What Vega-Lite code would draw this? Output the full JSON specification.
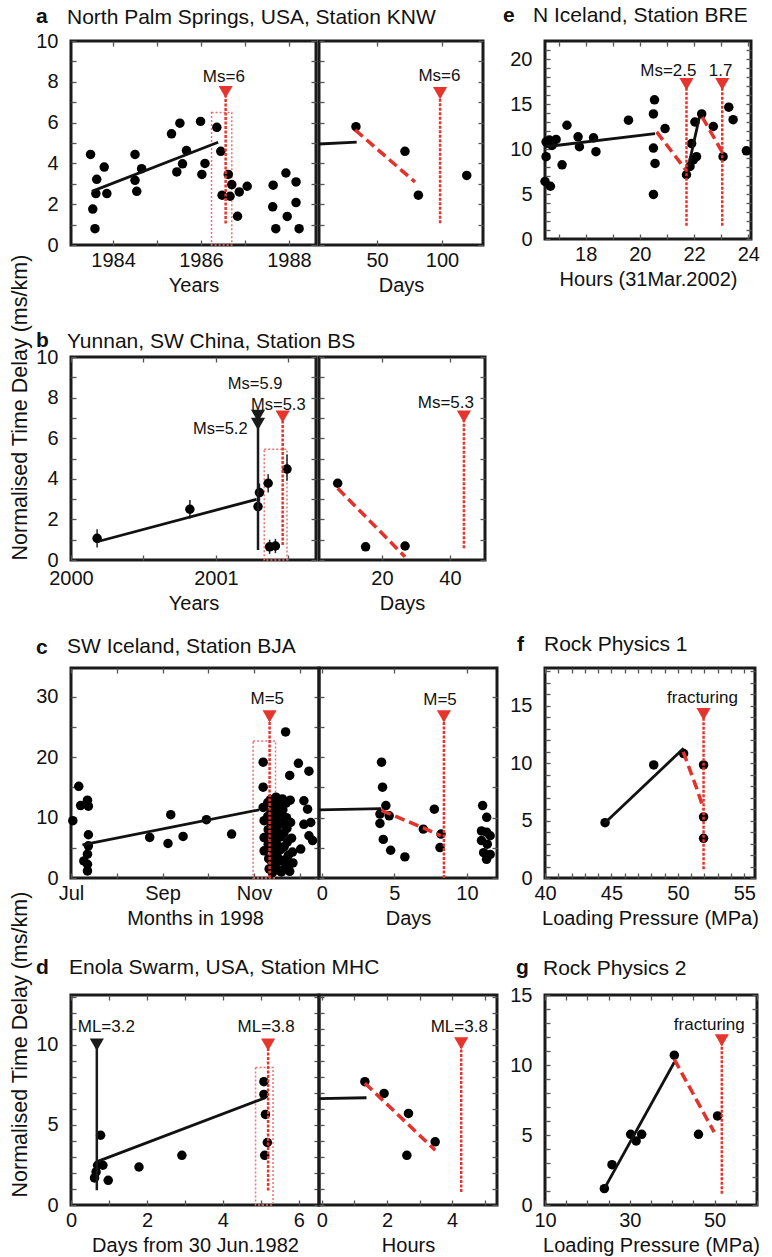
{
"$schema": "https://vega.github.io/schema/vega-lite/v6.json",
"padding": {"left": 8, "top": 3, "right": 5, "bottom": 5},
"background": "white",
"columns": 5,
"bounds": "flush",
"align": "each",
"spacing": {"row": 108, "column": 0},
"config": {
 "font": "Liberation Sans",
 "view": {"stroke": "#1a1a1a", "strokeWidth": 3},
 "axis": {"grid": false, "domain": false, "labelFont": "Liberation Sans", "labelFontSize": 20, "labelColor": "#111", "labelFlush": false, "labelOverlap": false, "titleFont": "Liberation Sans", "titleFontSize": 20, "titleFontWeight": "normal", "titleColor": "#111", "tickColor": "#555", "tickSize": -5, "tickWidth": 1.3, "minExtent": 0},
 "axisX": {"labelPadding": 10, "titlePadding": 5},
 "axisY": {"labelPadding": 18, "titlePadding": 4},
 "title": {"anchor": "start", "frame": "group", "font": "Liberation Sans", "fontSize": 21, "fontWeight": "bold", "color": "#111", "baseline": "top", "dx": 0},
 "text": {"font": "Liberation Sans"}
},
"concat": [
{"width": 35, "height": 10, "title": {"text": "a", "offset": 14}, "data": {"values": []}, "mark": {"type":"point","opacity":0}, "encoding": {}, "view": {"stroke": null}},
{
 "width": 245, "height": 204,
 "title": {"text": "North Palm Springs, USA, Station KNW", "fontWeight": "normal", "dx": -4, "offset": 3},
 "data": {"values": [
  {"k":"box","x":1986.24,"x2":1986.7,"y":0,"y2":6.5},
  {"k":"pt","x":1983.49,"y":4.44},{"k":"pt","x":1983.63,"y":3.22},{"k":"pt","x":1983.8,"y":3.82},{"k":"pt","x":1983.61,"y":2.52},{"k":"pt","x":1983.86,"y":2.52},{"k":"pt","x":1983.54,"y":1.76},{"k":"pt","x":1983.59,"y":0.8},{"k":"pt","x":1984.5,"y":4.44},{"k":"pt","x":1984.5,"y":3.17},{"k":"pt","x":1984.54,"y":2.63},{"k":"pt","x":1984.65,"y":3.74},{"k":"pt","x":1985.33,"y":5.45},{"k":"pt","x":1985.52,"y":5.97},{"k":"pt","x":1985.45,"y":3.58},{"k":"pt","x":1985.58,"y":3.98},{"k":"pt","x":1985.67,"y":4.63},{"k":"pt","x":1985.99,"y":6.06},{"k":"pt","x":1986.02,"y":3.46},{"k":"pt","x":1986.09,"y":4.0},{"k":"pt","x":1986.36,"y":5.77},{"k":"pt","x":1986.45,"y":4.59},{"k":"pt","x":1986.48,"y":2.44},{"k":"pt","x":1986.62,"y":3.46},{"k":"pt","x":1986.7,"y":2.96},{"k":"pt","x":1986.66,"y":2.39},{"k":"pt","x":1986.87,"y":2.6},{"k":"pt","x":1987.05,"y":2.88},{"k":"pt","x":1986.83,"y":1.41},{"k":"pt","x":1987.64,"y":2.93},{"k":"pt","x":1987.63,"y":1.87},{"k":"pt","x":1987.7,"y":0.8},{"k":"pt","x":1987.93,"y":3.53},{"k":"pt","x":1987.96,"y":1.4},{"k":"pt","x":1988.16,"y":3.09},{"k":"pt","x":1988.16,"y":2.08},{"k":"pt","x":1988.23,"y":0.8},
  {"k":"fit","s":1,"x":1983.52,"y":2.63},{"k":"fit","s":1,"x":1986.39,"y":5.04},
  {"k":"ev","c":"eq","x":1986.56,"y":1.05,"y2":7.5},
  {"k":"tri","c":"eq","x":1986.56,"y":7.5},
  {"k":"lab","x":1986.52,"y":8.24,"t":"Ms=6"}
 ]},
 "resolve": {"axis": {"x": "independent", "y": "independent"}},
 "layer": [
  {
   "encoding": {
    "x": {"field":"x","type":"quantitative","scale":{"domain":[1983.045,1988.614],"nice":false,"zero":false},"axis":{"values":[1984,1985,1986,1987,1988],"labelExpr":"datum.value == 1984 ? '1984' : datum.value == 1986 ? '1986' : datum.value == 1988 ? '1988' : ''","title":"Years"}},
    "y": {"field":"y","type":"quantitative","scale":{"domain":[0,10],"nice":false,"zero":false},"axis":{"values":[0,1,2,3,4,5,6,7,8,9,10],"labelExpr":"datum.value % 2 == 0 ? datum.label : ''","title":"Normalised Time Delay (ms/km)","titleAnchor":"start","titleY":519,"titleFontSize":21.5}}
   },
   "layer": [
    {"transform":[{"filter":"datum.k=='box'"}],"mark":{"type":"rect","filled":false,"color":"#ee7070","strokeWidth":1.5,"strokeDash":[2,2]},"encoding":{"x2":{"field":"x2"},"y2":{"field":"y2"}}},
    {"transform":[{"filter":"datum.k=='pt'"}],"mark":{"type":"circle","color":"#000","opacity":1,"size":90}},
    {"transform":[{"filter":"datum.k=='fit'"}],"mark":{"type":"line","color":"#111","strokeWidth":2.8},"encoding":{"detail":{"field":"s","type":"nominal"}}},
    {"transform":[{"filter":"datum.k=='ev'"}],"mark":{"type":"rule","strokeWidth":2.5},"encoding":{"y2":{"field":"y2"},"color":{"field":"c","type":"nominal","scale":{"domain":["eq","fore"],"range":["#e5352d","#1a1a1a"]},"legend":null},"strokeDash":{"field":"c","type":"nominal","scale":{"domain":["eq","fore"],"range":[[3,1.5],[1,0]]},"legend":null}}},
    {"transform":[{"filter":"datum.k=='tri'"}],"mark":{"type":"point","shape":"triangle-down","filled":true,"opacity":1,"size":200},"encoding":{"color":{"field":"c","type":"nominal","scale":{"domain":["eq","fore"],"range":["#e5352d","#1a1a1a"]},"legend":null}}},
    {"transform":[{"filter":"datum.k=='lab'"}],"mark":{"type":"text","fontSize":17,"color":"#111"},"encoding":{"text":{"field":"t","type":"nominal"}}}
   ]
  },
  {"transform":[{"filter":"false"}],"mark":{"type":"point","opacity":0},"encoding":{
   "x":{"field":"x","type":"quantitative","scale":{"domain":[1983.045,1988.614],"nice":false,"zero":false},"axis":{"orient":"top","labels":false,"title":null,"values":[1984,1985,1986,1987,1988]}},
   "y":{"field":"y","type":"quantitative","scale":{"domain":[0,10],"nice":false,"zero":false},"axis":{"orient":"right","labels":false,"title":null,"values":[0,1,2,3,4,5,6,7,8,9,10]}}}}
 ]
},
{
 "width": 164, "height": 204,
 "data": {"values": [
  {"k":"pt","x":33.8,"y":5.8},{"k":"pt","x":71.5,"y":4.59},{"k":"pt","x":81.8,"y":2.44},{"k":"pt","x":119,"y":3.41},
  {"k":"fit","s":1,"x":5.4,"y":4.95},{"k":"fit","s":1,"x":34.4,"y":5.04},
  {"k":"drop","s":1,"x":33.2,"y":5.64},{"k":"drop","s":1,"x":79.2,"y":3.09},
  {"k":"ev","c":"eq","x":98.5,"y":1.07,"y2":7.45},
  {"k":"tri","c":"eq","x":98.5,"y":7.45},
  {"k":"lab","x":98,"y":8.3,"t":"Ms=6"}
 ]},
 "resolve": {"axis": {"x": "independent", "y": "independent"}},
 "layer": [
  {
   "encoding": {
    "x": {"field":"x","type":"quantitative","scale":{"domain":[5.4,131.5],"nice":false,"zero":false},"axis":{"values":[50,100],"title":"Days"}},
    "y": {"field":"y","type":"quantitative","scale":{"domain":[0,10],"nice":false,"zero":false},"axis":{"values":[0,1,2,3,4,5,6,7,8,9,10],"labels":false,"title":null}}
   },
   "layer": [
    {"transform":[{"filter":"datum.k=='pt'"}],"mark":{"type":"circle","color":"#000","opacity":1,"size":90}},
    {"transform":[{"filter":"datum.k=='fit'"}],"mark":{"type":"line","color":"#111","strokeWidth":2.8},"encoding":{"detail":{"field":"s","type":"nominal"}}},
    {"transform":[{"filter":"datum.k=='drop'"}],"mark":{"type":"line","color":"#e3312b","strokeWidth":3.5,"strokeDash":[10,5]},"encoding":{"detail":{"field":"s","type":"nominal"}}},
    {"transform":[{"filter":"datum.k=='ev'"}],"mark":{"type":"rule","strokeWidth":2.5},"encoding":{"y2":{"field":"y2"},"color":{"field":"c","type":"nominal","scale":{"domain":["eq","fore"],"range":["#e5352d","#1a1a1a"]},"legend":null},"strokeDash":{"field":"c","type":"nominal","scale":{"domain":["eq","fore"],"range":[[3,1.5],[1,0]]},"legend":null}}},
    {"transform":[{"filter":"datum.k=='tri'"}],"mark":{"type":"point","shape":"triangle-down","filled":true,"opacity":1,"size":200},"encoding":{"color":{"field":"c","type":"nominal","scale":{"domain":["eq","fore"],"range":["#e5352d","#1a1a1a"]},"legend":null}}},
    {"transform":[{"filter":"datum.k=='lab'"}],"mark":{"type":"text","fontSize":17,"color":"#111"},"encoding":{"text":{"field":"t","type":"nominal"}}}
   ]
  },
  {"transform":[{"filter":"false"}],"mark":{"type":"point","opacity":0},"encoding":{
   "x":{"field":"x","type":"quantitative","scale":{"domain":[5.4,131.5],"nice":false,"zero":false},"axis":{"orient":"top","labels":false,"title":null,"values":[50,100]}},
   "y":{"field":"y","type":"quantitative","scale":{"domain":[0,10],"nice":false,"zero":false},"axis":{"orient":"right","labels":false,"title":null,"values":[0,1,2,3,4,5,6,7,8,9,10]}}}}
 ]
},
{"width": 48, "height": 208, "title": {"text": "e", "offset": 15, "dx": 6}, "data": {"values": []}, "mark": {"type":"point","opacity":0}, "encoding": {}, "view": {"stroke": null}},
{
 "width": 206, "height": 198,
 "title": {"text": "N Iceland, Station BRE", "fontWeight": "normal", "offset": 14, "dx": -12},
 "data": {"values": [
  {"k":"pt","x":16.54,"y":10.8},{"k":"pt","x":16.54,"y":9.15},{"k":"pt","x":16.5,"y":6.4},{"k":"pt","x":16.7,"y":5.86},{"k":"pt","x":16.66,"y":11.0},{"k":"pt","x":16.76,"y":10.4},{"k":"pt","x":16.91,"y":11.06},{"k":"pt","x":17.13,"y":8.24},{"k":"pt","x":17.31,"y":12.64},{"k":"pt","x":17.72,"y":11.35},{"k":"pt","x":17.77,"y":10.25},{"k":"pt","x":18.29,"y":11.24},{"k":"pt","x":18.38,"y":9.7},{"k":"pt","x":19.58,"y":13.2},{"k":"pt","x":20.54,"y":15.46},{"k":"pt","x":20.5,"y":13.9},{"k":"pt","x":20.5,"y":10.1},{"k":"pt","x":20.56,"y":8.4},{"k":"pt","x":20.5,"y":4.95},{"k":"pt","x":20.93,"y":12.27},{"k":"pt","x":21.72,"y":7.14},{"k":"pt","x":21.85,"y":8.06},{"k":"pt","x":21.97,"y":8.79},{"k":"pt","x":21.91,"y":10.6},{"k":"pt","x":22.03,"y":13.0},{"k":"pt","x":22.28,"y":13.9},{"k":"pt","x":22.09,"y":9.15},{"k":"pt","x":22.71,"y":12.5},{"k":"pt","x":23.07,"y":9.15},{"k":"pt","x":23.28,"y":14.65},{"k":"pt","x":23.44,"y":13.26},{"k":"pt","x":23.93,"y":9.8},
  {"k":"fit","s":1,"x":16.52,"y":10.25},{"k":"fit","s":1,"x":20.56,"y":11.7},{"k":"fit","s":2,"x":21.73,"y":7.2},{"k":"fit","s":2,"x":22.2,"y":13.6},
  {"k":"drop","s":1,"x":20.62,"y":11.9},{"k":"drop","s":1,"x":21.69,"y":7.7},{"k":"drop","s":2,"x":22.3,"y":13.55},{"k":"drop","s":2,"x":23.07,"y":9.5},
  {"k":"ev","c":"eq","x":21.72,"y":1.46,"y2":17.2},{"k":"ev","c":"eq","x":23.04,"y":1.46,"y2":17.2},
  {"k":"tri","c":"eq","x":21.72,"y":17.2},{"k":"tri","c":"eq","x":23.04,"y":17.2},
  {"k":"lab","x":21.05,"y":18.7,"t":"Ms=2.5"},{"k":"lab","x":22.98,"y":18.7,"t":"1.7"}
 ]},
 "resolve": {"axis": {"x": "independent", "y": "independent"}},
 "layer": [
  {
   "encoding": {
    "x": {"field":"x","type":"quantitative","scale":{"domain":[16.5,24.1],"nice":false,"zero":false},"axis":{"values":[17,18,19,20,21,22,23,24],"labelExpr":"datum.value % 2 == 0 ? datum.label : ''","title":"Hours (31Mar.2002)"}},
    "y": {"field":"y","type":"quantitative","scale":{"domain":[0,22],"nice":false,"zero":false},"axis":{"values":[0,1,2,3,4,5,6,7,8,9,10,11,12,13,14,15,16,17,18,19,20,21],"labelExpr":"datum.value % 5 == 0 ? datum.label : ''","title":null}}
   },
   "layer": [
    {"transform":[{"filter":"datum.k=='pt'"}],"mark":{"type":"circle","color":"#000","opacity":1,"size":90}},
    {"transform":[{"filter":"datum.k=='fit'"}],"mark":{"type":"line","color":"#111","strokeWidth":2.8},"encoding":{"detail":{"field":"s","type":"nominal"}}},
    {"transform":[{"filter":"datum.k=='drop'"}],"mark":{"type":"line","color":"#e3312b","strokeWidth":3.5,"strokeDash":[10,5]},"encoding":{"detail":{"field":"s","type":"nominal"}}},
    {"transform":[{"filter":"datum.k=='ev'"}],"mark":{"type":"rule","strokeWidth":2.5},"encoding":{"y2":{"field":"y2"},"color":{"field":"c","type":"nominal","scale":{"domain":["eq","fore"],"range":["#e5352d","#1a1a1a"]},"legend":null},"strokeDash":{"field":"c","type":"nominal","scale":{"domain":["eq","fore"],"range":[[3,1.5],[1,0]]},"legend":null}}},
    {"transform":[{"filter":"datum.k=='tri'"}],"mark":{"type":"point","shape":"triangle-down","filled":true,"opacity":1,"size":200},"encoding":{"color":{"field":"c","type":"nominal","scale":{"domain":["eq","fore"],"range":["#e5352d","#1a1a1a"]},"legend":null}}},
    {"transform":[{"filter":"datum.k=='lab'"}],"mark":{"type":"text","fontSize":17,"color":"#111"},"encoding":{"text":{"field":"t","type":"nominal"}}}
   ]
  },
  {"transform":[{"filter":"false"}],"mark":{"type":"point","opacity":0},"encoding":{
   "x":{"field":"x","type":"quantitative","scale":{"domain":[16.5,24.1],"nice":false,"zero":false},"axis":{"orient":"top","labels":false,"title":null,"values":[17,18,19,20,21,22,23,24]}},
   "y":{"field":"y","type":"quantitative","scale":{"domain":[0,22],"nice":false,"zero":false},"axis":{"orient":"right","labels":false,"title":null,"values":[0,1,2,3,4,5,6,7,8,9,10,11,12,13,14,15,16,17,18,19,20,21]}}}}
 ]
},
{"width": 35, "height": 10, "title": {"text": "b", "offset": 6}, "data": {"values": []}, "mark": {"type":"point","opacity":0}, "encoding": {}, "view": {"stroke": null}},
{
 "width": 245, "height": 203,
 "title": {"text": "Yunnan, SW China, Station BS", "fontWeight": "normal", "dx": -4, "offset": -5},
 "data": {"values": [
  {"k":"box","x":2001.333,"x2":2001.49,"y":0,"y2":5.45},
  {"k":"pt","x":2000.18,"y":1.07},{"k":"pt","x":2000.82,"y":2.5},{"k":"pt","x":2001.3,"y":3.32},{"k":"pt","x":2001.29,"y":2.63},{"k":"pt","x":2001.36,"y":3.78},{"k":"pt","x":2001.37,"y":0.65},{"k":"pt","x":2001.41,"y":0.69},{"k":"pt","x":2001.49,"y":4.48},
  {"k":"err","x":2000.18,"y":0.62,"y2":1.52},{"k":"err","x":2000.82,"y":2.05,"y2":2.95},{"k":"err","x":2001.3,"y":2.87,"y2":3.77},{"k":"err","x":2001.29,"y":2.18,"y2":3.08},{"k":"err","x":2001.36,"y":3.33,"y2":4.23},{"k":"err","x":2001.37,"y":0.3,"y2":1.0},{"k":"err","x":2001.41,"y":0.34,"y2":1.04},{"k":"err","x":2001.49,"y":3.9,"y2":5.2},
  {"k":"fit","s":1,"x":2000.18,"y":0.9},{"k":"fit","s":1,"x":2001.28,"y":2.99},
  {"k":"ev","c":"fore","x":2001.29,"y":0.49,"y2":7.06},{"k":"ev","c":"eq","x":2001.46,"y":0.74,"y2":7.06},
  {"k":"tri","c":"fore","x":2001.29,"y":7.1},{"k":"tri","c":"fore","x":2001.29,"y":6.7},{"k":"tri","c":"eq","x":2001.46,"y":7.06},
  {"k":"lab","x":2001.27,"y":8.66,"t":"Ms=5.9"},{"k":"lab","x":2001.43,"y":7.66,"t":"Ms=5.3"},{"k":"lab","x":2001.03,"y":6.44,"t":"Ms=5.2"}
 ]},
 "resolve": {"axis": {"x": "independent", "y": "independent"}},
 "layer": [
  {
   "encoding": {
    "x": {"field":"x","type":"quantitative","scale":{"domain":[2000,2001.69],"nice":false,"zero":false},"axis":{"values":[2000,2000.5,2001,2001.5],"labelExpr":"datum.value == 2000 ? '2000' : datum.value == 2001 ? '2001' : ''","labelPadding":13,"title":"Years"}},
    "y": {"field":"y","type":"quantitative","scale":{"domain":[0,10],"nice":false,"zero":false},"axis":{"values":[0,1,2,3,4,5,6,7,8,9,10],"labelExpr":"datum.value % 2 == 0 ? datum.label : ''","title":null}}
   },
   "layer": [
    {"transform":[{"filter":"datum.k=='box'"}],"mark":{"type":"rect","filled":false,"color":"#ee7070","strokeWidth":1.5,"strokeDash":[2,2]},"encoding":{"x2":{"field":"x2"},"y2":{"field":"y2"}}},
    {"transform":[{"filter":"datum.k=='err'"}],"mark":{"type":"rule","color":"#222","strokeWidth":1.5},"encoding":{"y2":{"field":"y2"}}},
    {"transform":[{"filter":"datum.k=='pt'"}],"mark":{"type":"circle","color":"#000","opacity":1,"size":90}},
    {"transform":[{"filter":"datum.k=='fit'"}],"mark":{"type":"line","color":"#111","strokeWidth":2.8},"encoding":{"detail":{"field":"s","type":"nominal"}}},
    {"transform":[{"filter":"datum.k=='ev'"}],"mark":{"type":"rule","strokeWidth":2.5},"encoding":{"y2":{"field":"y2"},"color":{"field":"c","type":"nominal","scale":{"domain":["eq","fore"],"range":["#e5352d","#1a1a1a"]},"legend":null},"strokeDash":{"field":"c","type":"nominal","scale":{"domain":["eq","fore"],"range":[[3,1.5],[1,0]]},"legend":null}}},
    {"transform":[{"filter":"datum.k=='tri'"}],"mark":{"type":"point","shape":"triangle-down","filled":true,"opacity":1,"size":200},"encoding":{"color":{"field":"c","type":"nominal","scale":{"domain":["eq","fore"],"range":["#e5352d","#1a1a1a"]},"legend":null}}},
    {"transform":[{"filter":"datum.k=='lab'"}],"mark":{"type":"text","fontSize":16.5,"color":"#111"},"encoding":{"text":{"field":"t","type":"nominal"}}}
   ]
  },
  {"transform":[{"filter":"false"}],"mark":{"type":"point","opacity":0},"encoding":{
   "x":{"field":"x","type":"quantitative","scale":{"domain":[2000,2001.69],"nice":false,"zero":false},"axis":{"orient":"top","labels":false,"title":null,"values":[2000,2000.5,2001,2001.5]}},
   "y":{"field":"y","type":"quantitative","scale":{"domain":[0,10],"nice":false,"zero":false},"axis":{"orient":"right","labels":false,"title":null,"values":[0,1,2,3,4,5,6,7,8,9,10]}}}}
 ]
},
{
 "width": 166, "height": 203,
 "data": {"values": [
  {"k":"pt","x":7.0,"y":3.78},{"k":"pt","x":15.2,"y":0.65},{"k":"pt","x":26.8,"y":0.69},
  {"k":"drop","s":1,"x":7.0,"y":3.53},{"k":"drop","s":1,"x":26.8,"y":0.16},
  {"k":"ev","c":"eq","x":44.1,"y":0.58,"y2":7.06},
  {"k":"tri","c":"eq","x":44.1,"y":7.06},
  {"k":"lab","x":38.8,"y":7.72,"t":"Ms=5.3"}
 ]},
 "resolve": {"axis": {"x": "independent", "y": "independent"}},
 "layer": [
  {
   "encoding": {
    "x": {"field":"x","type":"quantitative","scale":{"domain":[1.5,50.3],"nice":false,"zero":false},"axis":{"values":[20,40],"labelPadding":13,"title":"Days"}},
    "y": {"field":"y","type":"quantitative","scale":{"domain":[0,10],"nice":false,"zero":false},"axis":{"values":[0,1,2,3,4,5,6,7,8,9,10],"labels":false,"title":null}}
   },
   "layer": [
    {"transform":[{"filter":"datum.k=='pt'"}],"mark":{"type":"circle","color":"#000","opacity":1,"size":90}},
    {"transform":[{"filter":"datum.k=='drop'"}],"mark":{"type":"line","color":"#e3312b","strokeWidth":3.5,"strokeDash":[10,5]},"encoding":{"detail":{"field":"s","type":"nominal"}}},
    {"transform":[{"filter":"datum.k=='ev'"}],"mark":{"type":"rule","strokeWidth":2.5},"encoding":{"y2":{"field":"y2"},"color":{"field":"c","type":"nominal","scale":{"domain":["eq","fore"],"range":["#e5352d","#1a1a1a"]},"legend":null},"strokeDash":{"field":"c","type":"nominal","scale":{"domain":["eq","fore"],"range":[[3,1.5],[1,0]]},"legend":null}}},
    {"transform":[{"filter":"datum.k=='tri'"}],"mark":{"type":"point","shape":"triangle-down","filled":true,"opacity":1,"size":200},"encoding":{"color":{"field":"c","type":"nominal","scale":{"domain":["eq","fore"],"range":["#e5352d","#1a1a1a"]},"legend":null}}},
    {"transform":[{"filter":"datum.k=='lab'"}],"mark":{"type":"text","fontSize":17,"color":"#111"},"encoding":{"text":{"field":"t","type":"nominal"}}}
   ]
  },
  {"transform":[{"filter":"false"}],"mark":{"type":"point","opacity":0},"encoding":{
   "x":{"field":"x","type":"quantitative","scale":{"domain":[1.5,50.3],"nice":false,"zero":false},"axis":{"orient":"top","labels":false,"title":null,"values":[20,40]}},
   "y":{"field":"y","type":"quantitative","scale":{"domain":[0,10],"nice":false,"zero":false},"axis":{"orient":"right","labels":false,"title":null,"values":[0,1,2,3,4,5,6,7,8,9,10]}}}}
 ]
},
{"width": 48, "height": 203, "data": {"values": []}, "mark": {"type":"point","opacity":0}, "encoding": {}, "view": {"stroke": null}},
{"width": 10, "height": 203, "data": {"values": []}, "mark": {"type":"point","opacity":0}, "encoding": {}, "view": {"stroke": null}},
{"width": 35, "height": 10, "title": {"text": "c", "offset": 10}, "data": {"values": []}, "mark": {"type":"point","opacity":0}, "encoding": {}, "view": {"stroke": null}},
{
 "width": 248, "height": 210,
 "title": {"text": "SW Iceland, Station BJA", "fontWeight": "normal", "dx": -4, "offset": 10},
 "data": {"values": [
  {"k":"box","x":10.98,"x2":11.47,"y":0,"y2":22.7},
  {"k":"pt","x":7.04,"y":9.5},{"k":"pt","x":7.17,"y":15.2},{"k":"pt","x":7.21,"y":12.0},{"k":"pt","x":7.36,"y":12.9},{"k":"pt","x":7.38,"y":11.9},{"k":"pt","x":7.38,"y":7.17},{"k":"pt","x":7.28,"y":2.83},{"k":"pt","x":7.36,"y":3.94},{"k":"pt","x":7.36,"y":1.17},{"k":"pt","x":7.38,"y":5.33},{"k":"pt","x":7.36,"y":2.28},
  {"k":"pt","x":8.72,"y":6.72},{"k":"pt","x":9.12,"y":5.72},{"k":"pt","x":9.18,"y":10.5},{"k":"pt","x":9.45,"y":6.89},{"k":"pt","x":9.96,"y":9.67},{"k":"pt","x":10.51,"y":7.28},
  {"k":"pt","x":11.2,"y":19.2},{"k":"pt","x":11.2,"y":15.05},{"k":"pt","x":11.2,"y":11.7},{"k":"pt","x":11.22,"y":9.5},{"k":"pt","x":11.22,"y":6.7},{"k":"pt","x":11.22,"y":4.5},{"k":"pt","x":11.69,"y":24.2},{"k":"pt","x":11.78,"y":17.0},{"k":"pt","x":11.97,"y":19.0},{"k":"pt","x":12.2,"y":17.7},{"k":"pt","x":12.02,"y":4.8},{"k":"pt","x":12.09,"y":12.8},{"k":"pt","x":12.17,"y":11.4},{"k":"pt","x":12.09,"y":8.9},{"k":"pt","x":12.24,"y":9.2},{"k":"pt","x":12.28,"y":6.2},{"k":"pt","x":12.2,"y":7.0},
  {"k":"pt","x":11.3,"y":12.5},{"k":"pt","x":11.3,"y":10.2},{"k":"pt","x":11.31,"y":8.0},{"k":"pt","x":11.31,"y":5.6},{"k":"pt","x":11.32,"y":3.2},{"k":"pt","x":11.33,"y":1.5},
  {"k":"pt","x":11.36,"y":13.0},{"k":"pt","x":11.37,"y":11.0},{"k":"pt","x":11.37,"y":9.1},{"k":"pt","x":11.38,"y":7.2},{"k":"pt","x":11.38,"y":4.9},{"k":"pt","x":11.39,"y":2.6},{"k":"pt","x":11.4,"y":0.9},
  {"k":"pt","x":11.42,"y":12.2},{"k":"pt","x":11.43,"y":10.4},{"k":"pt","x":11.43,"y":8.5},{"k":"pt","x":11.44,"y":6.3},{"k":"pt","x":11.45,"y":4.1},{"k":"pt","x":11.46,"y":2.0},
  {"k":"pt","x":11.48,"y":13.4},{"k":"pt","x":11.49,"y":11.6},{"k":"pt","x":11.5,"y":9.6},{"k":"pt","x":11.5,"y":7.7},{"k":"pt","x":11.51,"y":5.5},{"k":"pt","x":11.52,"y":3.4},{"k":"pt","x":11.53,"y":1.3},
  {"k":"pt","x":11.55,"y":12.6},{"k":"pt","x":11.56,"y":10.8},{"k":"pt","x":11.57,"y":8.9},{"k":"pt","x":11.57,"y":6.8},{"k":"pt","x":11.58,"y":4.7},{"k":"pt","x":11.59,"y":2.8},{"k":"pt","x":11.6,"y":1.0},
  {"k":"pt","x":11.62,"y":13.1},{"k":"pt","x":11.63,"y":11.3},{"k":"pt","x":11.64,"y":9.4},{"k":"pt","x":11.65,"y":7.4},{"k":"pt","x":11.66,"y":5.2},{"k":"pt","x":11.67,"y":3.0},{"k":"pt","x":11.68,"y":1.6},
  {"k":"pt","x":11.7,"y":12.4},{"k":"pt","x":11.71,"y":10.0},{"k":"pt","x":11.72,"y":8.2},{"k":"pt","x":11.73,"y":6.0},{"k":"pt","x":11.75,"y":3.8},{"k":"pt","x":11.76,"y":2.2},
  {"k":"pt","x":11.79,"y":12.9},{"k":"pt","x":11.8,"y":9.2},{"k":"pt","x":11.82,"y":6.6},{"k":"pt","x":11.84,"y":4.3},{"k":"pt","x":11.85,"y":2.5},{"k":"pt","x":11.78,"y":1.1},
  {"k":"fit","s":1,"x":7.25,"y":5.5},{"k":"fit","s":1,"x":11.11,"y":11.3},
  {"k":"ev","c":"eq","x":11.34,"y":0,"y2":26.8},
  {"k":"tri","c":"eq","x":11.34,"y":26.8},
  {"k":"lab","x":11.29,"y":29.6,"t":"M=5"}
 ]},
 "resolve": {"axis": {"x": "independent", "y": "independent"}},
 "layer": [
  {
   "encoding": {
    "x": {"field":"x","type":"quantitative","scale":{"domain":[7,12.42],"nice":false,"zero":false},"axis":{"values":[7,8,9,10,11,12],"labelExpr":"datum.value==7?'Jul':datum.value==9?'Sep':datum.value==11?'Nov':''","title":"Months in 1998"}},
    "y": {"field":"y","type":"quantitative","scale":{"domain":[0,34.8],"nice":false,"zero":false},"axis":{"values":[0,5,10,15,20,25,30],"labelExpr":"datum.value % 10 == 0 ? datum.label : ''","title":"Normalised Time Delay (ms/km)","titleAnchor":"start","titleY":529,"titleFontSize":21.5}}
   },
   "layer": [
    {"transform":[{"filter":"datum.k=='box'"}],"mark":{"type":"rect","filled":false,"color":"#ee7070","strokeWidth":1.5,"strokeDash":[2,2]},"encoding":{"x2":{"field":"x2"},"y2":{"field":"y2"}}},
    {"transform":[{"filter":"datum.k=='pt'"}],"mark":{"type":"circle","color":"#000","opacity":1,"size":90}},
    {"transform":[{"filter":"datum.k=='fit'"}],"mark":{"type":"line","color":"#111","strokeWidth":2.8},"encoding":{"detail":{"field":"s","type":"nominal"}}},
    {"transform":[{"filter":"datum.k=='ev'"}],"mark":{"type":"rule","strokeWidth":2.5},"encoding":{"y2":{"field":"y2"},"color":{"field":"c","type":"nominal","scale":{"domain":["eq","fore"],"range":["#e5352d","#1a1a1a"]},"legend":null},"strokeDash":{"field":"c","type":"nominal","scale":{"domain":["eq","fore"],"range":[[3,1.5],[1,0]]},"legend":null}}},
    {"transform":[{"filter":"datum.k=='tri'"}],"mark":{"type":"point","shape":"triangle-down","filled":true,"opacity":1,"size":200},"encoding":{"color":{"field":"c","type":"nominal","scale":{"domain":["eq","fore"],"range":["#e5352d","#1a1a1a"]},"legend":null}}},
    {"transform":[{"filter":"datum.k=='lab'"}],"mark":{"type":"text","fontSize":17,"color":"#111"},"encoding":{"text":{"field":"t","type":"nominal"}}}
   ]
  },
  {"transform":[{"filter":"false"}],"mark":{"type":"point","opacity":0},"encoding":{
   "x":{"field":"x","type":"quantitative","scale":{"domain":[7,12.42],"nice":false,"zero":false},"axis":{"orient":"top","labels":false,"title":null,"values":[7,8,9,10,11,12]}},
   "y":{"field":"y","type":"quantitative","scale":{"domain":[0,34.8],"nice":false,"zero":false},"axis":{"orient":"right","labels":false,"title":null,"values":[0,5,10,15,20,25,30]}}}}
 ]
},
{
 "width": 178, "height": 210,
 "data": {"values": [
  {"k":"pt","x":4.11,"y":19.2},{"k":"pt","x":4.18,"y":15.05},{"k":"pt","x":4.41,"y":12.0},{"k":"pt","x":4.0,"y":10.6},{"k":"pt","x":4.64,"y":10.3},{"k":"pt","x":4.0,"y":9.05},{"k":"pt","x":4.23,"y":6.4},{"k":"pt","x":4.74,"y":4.6},{"k":"pt","x":5.72,"y":3.5},{"k":"pt","x":6.99,"y":8.1},{"k":"pt","x":7.75,"y":11.4},{"k":"pt","x":8.21,"y":7.28},{"k":"pt","x":8.14,"y":5.05},{"k":"pt","x":11.08,"y":12.0},{"k":"pt","x":11.36,"y":10.05},{"k":"pt","x":11.0,"y":7.8},{"k":"pt","x":11.35,"y":7.6},{"k":"pt","x":11.6,"y":7.0},{"k":"pt","x":11.0,"y":6.2},{"k":"pt","x":11.4,"y":5.6},{"k":"pt","x":11.15,"y":4.2},{"k":"pt","x":11.6,"y":3.9},{"k":"pt","x":11.35,"y":3.1},
  {"k":"fit","s":1,"x":-0.2,"y":11.3},{"k":"fit","s":1,"x":4.1,"y":11.5},
  {"k":"drop","s":1,"x":4.1,"y":11.2},{"k":"drop","s":1,"x":7.0,"y":8.3},{"k":"drop","s":1,"x":8.2,"y":7.0},
  {"k":"ev","c":"eq","x":8.41,"y":0,"y2":26.8},
  {"k":"tri","c":"eq","x":8.41,"y":26.8},
  {"k":"lab","x":8.14,"y":29.5,"t":"M=5"}
 ]},
 "resolve": {"axis": {"x": "independent", "y": "independent"}},
 "layer": [
  {
   "encoding": {
    "x": {"field":"x","type":"quantitative","scale":{"domain":[-0.2,12.07],"nice":false,"zero":false},"axis":{"values":[0,5,10],"title":"Days"}},
    "y": {"field":"y","type":"quantitative","scale":{"domain":[0,34.8],"nice":false,"zero":false},"axis":{"values":[0,5,10,15,20,25,30],"labels":false,"title":null}}
   },
   "layer": [
    {"transform":[{"filter":"datum.k=='pt'"}],"mark":{"type":"circle","color":"#000","opacity":1,"size":90}},
    {"transform":[{"filter":"datum.k=='fit'"}],"mark":{"type":"line","color":"#111","strokeWidth":2.8},"encoding":{"detail":{"field":"s","type":"nominal"}}},
    {"transform":[{"filter":"datum.k=='drop'"}],"mark":{"type":"line","color":"#e3312b","strokeWidth":3.5,"strokeDash":[10,5]},"encoding":{"detail":{"field":"s","type":"nominal"}}},
    {"transform":[{"filter":"datum.k=='ev'"}],"mark":{"type":"rule","strokeWidth":2.5},"encoding":{"y2":{"field":"y2"},"color":{"field":"c","type":"nominal","scale":{"domain":["eq","fore"],"range":["#e5352d","#1a1a1a"]},"legend":null},"strokeDash":{"field":"c","type":"nominal","scale":{"domain":["eq","fore"],"range":[[3,1.5],[1,0]]},"legend":null}}},
    {"transform":[{"filter":"datum.k=='tri'"}],"mark":{"type":"point","shape":"triangle-down","filled":true,"opacity":1,"size":200},"encoding":{"color":{"field":"c","type":"nominal","scale":{"domain":["eq","fore"],"range":["#e5352d","#1a1a1a"]},"legend":null}}},
    {"transform":[{"filter":"datum.k=='lab'"}],"mark":{"type":"text","fontSize":17,"color":"#111"},"encoding":{"text":{"field":"t","type":"nominal"}}}
   ]
  },
  {"transform":[{"filter":"false"}],"mark":{"type":"point","opacity":0},"encoding":{
   "x":{"field":"x","type":"quantitative","scale":{"domain":[-0.2,12.07],"nice":false,"zero":false},"axis":{"orient":"top","labels":false,"title":null,"values":[0,5,10]}},
   "y":{"field":"y","type":"quantitative","scale":{"domain":[0,34.8],"nice":false,"zero":false},"axis":{"orient":"right","labels":false,"title":null,"values":[0,5,10,15,20,25,30]}}}}
 ]
},
{"width": 48, "height": 219, "title": {"text": "f", "offset": 13, "dx": 20}, "data": {"values": []}, "mark": {"type":"point","opacity":0}, "encoding": {}, "view": {"stroke": null}},
{
 "width": 210, "height": 210,
 "title": {"text": "Rock Physics 1", "fontWeight": "normal", "offset": 6, "dx": -1},
 "data": {"values": [
  {"k":"pt","x":44.52,"y":4.82},{"k":"pt","x":48.18,"y":9.85},{"k":"pt","x":50.43,"y":10.84},{"k":"pt","x":51.93,"y":9.85},{"k":"pt","x":51.93,"y":5.32},{"k":"pt","x":51.93,"y":3.46},
  {"k":"fit","s":1,"x":44.5,"y":4.8},{"k":"fit","s":1,"x":50.43,"y":11.3},
  {"k":"drop","s":1,"x":50.4,"y":11.0},{"k":"drop","s":1,"x":51.4,"y":7.86},{"k":"drop","s":1,"x":51.93,"y":6.0},
  {"k":"ev","c":"eq","x":51.93,"y":0.76,"y2":14.27},
  {"k":"tri","c":"eq","x":51.93,"y":14.27},
  {"k":"lab","x":51.85,"y":15.7,"t":"fracturing"}
 ]},
 "resolve": {"axis": {"x": "independent", "y": "independent"}},
 "layer": [
  {
   "encoding": {
    "x": {"field":"x","type":"quantitative","scale":{"domain":[40,55.8],"nice":false,"zero":false},"axis":{"values":[40,41,42,43,44,45,46,47,48,49,50,51,52,53,54,55],"labelExpr":"datum.value % 5 == 0 ? datum.label : ''","title":"Loading Pressure (MPa)"}},
    "y": {"field":"y","type":"quantitative","scale":{"domain":[0,18.3],"nice":false,"zero":false},"axis":{"values":[0,1,2,3,4,5,6,7,8,9,10,11,12,13,14,15,16,17,18],"labelExpr":"datum.value % 5 == 0 ? datum.label : ''","title":null}}
   },
   "layer": [
    {"transform":[{"filter":"datum.k=='pt'"}],"mark":{"type":"circle","color":"#000","opacity":1,"size":90}},
    {"transform":[{"filter":"datum.k=='fit'"}],"mark":{"type":"line","color":"#111","strokeWidth":2.8},"encoding":{"detail":{"field":"s","type":"nominal"}}},
    {"transform":[{"filter":"datum.k=='drop'"}],"mark":{"type":"line","color":"#e3312b","strokeWidth":3.5,"strokeDash":[10,5]},"encoding":{"detail":{"field":"s","type":"nominal"}}},
    {"transform":[{"filter":"datum.k=='ev'"}],"mark":{"type":"rule","strokeWidth":2.5},"encoding":{"y2":{"field":"y2"},"color":{"field":"c","type":"nominal","scale":{"domain":["eq","fore"],"range":["#e5352d","#1a1a1a"]},"legend":null},"strokeDash":{"field":"c","type":"nominal","scale":{"domain":["eq","fore"],"range":[[3,1.5],[1,0]]},"legend":null}}},
    {"transform":[{"filter":"datum.k=='tri'"}],"mark":{"type":"point","shape":"triangle-down","filled":true,"opacity":1,"size":200},"encoding":{"color":{"field":"c","type":"nominal","scale":{"domain":["eq","fore"],"range":["#e5352d","#1a1a1a"]},"legend":null}}},
    {"transform":[{"filter":"datum.k=='lab'"}],"mark":{"type":"text","fontSize":17,"color":"#111"},"encoding":{"text":{"field":"t","type":"nominal"}}}
   ]
  },
  {"transform":[{"filter":"false"}],"mark":{"type":"point","opacity":0},"encoding":{
   "x":{"field":"x","type":"quantitative","scale":{"domain":[40,55.8],"nice":false,"zero":false},"axis":{"orient":"top","labels":false,"title":null,"values":[40,41,42,43,44,45,46,47,48,49,50,51,52,53,54,55]}},
   "y":{"field":"y","type":"quantitative","scale":{"domain":[0,18.3],"nice":false,"zero":false},"axis":{"orient":"right","labels":false,"title":null,"values":[0,1,2,3,4,5,6,7,8,9,10,11,12,13,14,15,16,17,18]}}}}
 ]
},
{"width": 35, "height": 10, "title": {"text": "d", "offset": 17}, "data": {"values": []}, "mark": {"type":"point","opacity":0}, "encoding": {}, "view": {"stroke": null}},
{
 "width": 248, "height": 210,
 "title": {"text": "Enola Swarm, USA, Station MHC", "fontWeight": "normal", "dx": -2, "offset": 9},
 "data": {"values": [
  {"k":"box","x":4.86,"x2":5.32,"y":0,"y2":8.58},
  {"k":"pt","x":0.62,"y":1.69},{"k":"pt","x":0.7,"y":2.48},{"k":"pt","x":0.66,"y":2.06},{"k":"pt","x":0.78,"y":4.35},{"k":"pt","x":0.84,"y":2.48},{"k":"pt","x":0.98,"y":1.54},{"k":"pt","x":1.79,"y":2.37},{"k":"pt","x":2.92,"y":3.1},{"k":"pt","x":5.08,"y":7.69},{"k":"pt","x":5.08,"y":6.9},{"k":"pt","x":5.12,"y":5.65},{"k":"pt","x":5.17,"y":3.9},{"k":"pt","x":5.1,"y":3.1},
  {"k":"fit","s":1,"x":0.67,"y":2.69},{"k":"fit","s":1,"x":5.12,"y":6.69},
  {"k":"ev","c":"fore","x":0.68,"y":0.92,"y2":10.0},{"k":"ev","c":"eq","x":5.19,"y":0.9,"y2":10.0},
  {"k":"tri","c":"fore","x":0.68,"y":10.0},{"k":"tri","c":"eq","x":5.19,"y":10.0},
  {"k":"lab","x":0.93,"y":11.1,"t":"ML=3.2"},{"k":"lab","x":5.14,"y":11.1,"t":"ML=3.8"}
 ]},
 "resolve": {"axis": {"x": "independent", "y": "independent"}},
 "layer": [
  {
   "encoding": {
    "x": {"field":"x","type":"quantitative","scale":{"domain":[0,6.53],"nice":false,"zero":false},"axis":{"values":[0,1,2,3,4,5,6],"labelExpr":"datum.value % 2 == 0 ? datum.label : ''","title":"Days from 30 Jun.1982"}},
    "y": {"field":"y","type":"quantitative","scale":{"domain":[0,13.1],"nice":false,"zero":false},"axis":{"values":[0,1,2,3,4,5,6,7,8,9,10,11,12,13],"labelExpr":"datum.value % 5 == 0 ? datum.label : ''","title":null}}
   },
   "layer": [
    {"transform":[{"filter":"datum.k=='box'"}],"mark":{"type":"rect","filled":false,"color":"#ee7070","strokeWidth":1.5,"strokeDash":[2,2]},"encoding":{"x2":{"field":"x2"},"y2":{"field":"y2"}}},
    {"transform":[{"filter":"datum.k=='pt'"}],"mark":{"type":"circle","color":"#000","opacity":1,"size":90}},
    {"transform":[{"filter":"datum.k=='fit'"}],"mark":{"type":"line","color":"#111","strokeWidth":2.8},"encoding":{"detail":{"field":"s","type":"nominal"}}},
    {"transform":[{"filter":"datum.k=='ev'"}],"mark":{"type":"rule","strokeWidth":2.5},"encoding":{"y2":{"field":"y2"},"color":{"field":"c","type":"nominal","scale":{"domain":["eq","fore"],"range":["#e5352d","#1a1a1a"]},"legend":null},"strokeDash":{"field":"c","type":"nominal","scale":{"domain":["eq","fore"],"range":[[3,1.5],[1,0]]},"legend":null}}},
    {"transform":[{"filter":"datum.k=='tri'"}],"mark":{"type":"point","shape":"triangle-down","filled":true,"opacity":1,"size":200},"encoding":{"color":{"field":"c","type":"nominal","scale":{"domain":["eq","fore"],"range":["#e5352d","#1a1a1a"]},"legend":null}}},
    {"transform":[{"filter":"datum.k=='lab'"}],"mark":{"type":"text","fontSize":17,"color":"#111"},"encoding":{"text":{"field":"t","type":"nominal"}}}
   ]
  },
  {"transform":[{"filter":"false"}],"mark":{"type":"point","opacity":0},"encoding":{
   "x":{"field":"x","type":"quantitative","scale":{"domain":[0,6.53],"nice":false,"zero":false},"axis":{"orient":"top","labels":false,"title":null,"values":[0,1,2,3,4,5,6]}},
   "y":{"field":"y","type":"quantitative","scale":{"domain":[0,13.1],"nice":false,"zero":false},"axis":{"orient":"right","labels":false,"title":null,"values":[0,1,2,3,4,5,6,7,8,9,10,11,12,13]}}}}
 ]
},
{
 "width": 178, "height": 210,
 "data": {"values": [
  {"k":"pt","x":1.32,"y":7.69},{"k":"pt","x":1.91,"y":6.96},{"k":"pt","x":2.66,"y":5.71},{"k":"pt","x":2.61,"y":3.1},{"k":"pt","x":3.48,"y":3.94},
  {"k":"fit","s":1,"x":-0.09,"y":6.64},{"k":"fit","s":1,"x":1.37,"y":6.69},
  {"k":"drop","s":1,"x":1.32,"y":7.6},{"k":"drop","s":1,"x":3.48,"y":3.42},
  {"k":"ev","c":"eq","x":4.28,"y":0.81,"y2":10.08},
  {"k":"tri","c":"eq","x":4.28,"y":10.08},
  {"k":"lab","x":4.22,"y":11.1,"t":"ML=3.8"}
 ]},
 "resolve": {"axis": {"x": "independent", "y": "independent"}},
 "layer": [
  {
   "encoding": {
    "x": {"field":"x","type":"quantitative","scale":{"domain":[-0.09,5.38],"nice":false,"zero":false},"axis":{"values":[0,1,2,3,4,5],"labelExpr":"datum.value % 2 == 0 ? datum.label : ''","title":"Hours"}},
    "y": {"field":"y","type":"quantitative","scale":{"domain":[0,13.1],"nice":false,"zero":false},"axis":{"values":[0,1,2,3,4,5,6,7,8,9,10,11,12,13],"labels":false,"title":null}}
   },
   "layer": [
    {"transform":[{"filter":"datum.k=='pt'"}],"mark":{"type":"circle","color":"#000","opacity":1,"size":90}},
    {"transform":[{"filter":"datum.k=='fit'"}],"mark":{"type":"line","color":"#111","strokeWidth":2.8},"encoding":{"detail":{"field":"s","type":"nominal"}}},
    {"transform":[{"filter":"datum.k=='drop'"}],"mark":{"type":"line","color":"#e3312b","strokeWidth":3.5,"strokeDash":[10,5]},"encoding":{"detail":{"field":"s","type":"nominal"}}},
    {"transform":[{"filter":"datum.k=='ev'"}],"mark":{"type":"rule","strokeWidth":2.5},"encoding":{"y2":{"field":"y2"},"color":{"field":"c","type":"nominal","scale":{"domain":["eq","fore"],"range":["#e5352d","#1a1a1a"]},"legend":null},"strokeDash":{"field":"c","type":"nominal","scale":{"domain":["eq","fore"],"range":[[3,1.5],[1,0]]},"legend":null}}},
    {"transform":[{"filter":"datum.k=='tri'"}],"mark":{"type":"point","shape":"triangle-down","filled":true,"opacity":1,"size":200},"encoding":{"color":{"field":"c","type":"nominal","scale":{"domain":["eq","fore"],"range":["#e5352d","#1a1a1a"]},"legend":null}}},
    {"transform":[{"filter":"datum.k=='lab'"}],"mark":{"type":"text","fontSize":17,"color":"#111"},"encoding":{"text":{"field":"t","type":"nominal"}}}
   ]
  },
  {"transform":[{"filter":"false"}],"mark":{"type":"point","opacity":0},"encoding":{
   "x":{"field":"x","type":"quantitative","scale":{"domain":[-0.09,5.38],"nice":false,"zero":false},"axis":{"orient":"top","labels":false,"title":null,"values":[0,1,2,3,4,5]}},
   "y":{"field":"y","type":"quantitative","scale":{"domain":[0,13.1],"nice":false,"zero":false},"axis":{"orient":"right","labels":false,"title":null,"values":[0,1,2,3,4,5,6,7,8,9,10,11,12,13]}}}}
 ]
},
{"width": 48, "height": 200, "title": {"text": "g", "offset": 17, "dx": 19}, "data": {"values": []}, "mark": {"type":"point","opacity":0}, "encoding": {}, "view": {"stroke": null}},
{
 "width": 212, "height": 210,
 "title": {"text": "Rock Physics 2", "fontWeight": "normal", "offset": 6, "dx": -2},
 "data": {"values": [
  {"k":"pt","x":24.0,"y":1.17},{"k":"pt","x":25.8,"y":2.88},{"k":"pt","x":30.2,"y":5.05},{"k":"pt","x":31.5,"y":4.57},{"k":"pt","x":32.8,"y":5.05},{"k":"pt","x":40.5,"y":10.7},{"k":"pt","x":46.2,"y":5.05},{"k":"pt","x":50.7,"y":6.36},
  {"k":"fit","s":1,"x":24,"y":1.17},{"k":"fit","s":1,"x":40.5,"y":10.2},
  {"k":"drop","s":1,"x":40.5,"y":10.4},{"k":"drop","s":1,"x":49.9,"y":5.2},
  {"k":"ev","c":"eq","x":51.7,"y":0.8,"y2":11.76},
  {"k":"tri","c":"eq","x":51.7,"y":11.76},
  {"k":"lab","x":48.75,"y":12.83,"t":"fracturing"}
 ]},
 "resolve": {"axis": {"x": "independent", "y": "independent"}},
 "layer": [
  {
   "encoding": {
    "x": {"field":"x","type":"quantitative","scale":{"domain":[10,60],"nice":false,"zero":false},"axis":{"values":[10,15,20,25,30,35,40,45,50,55,60],"labelExpr":"datum.value == 10 ? '10' : datum.value == 30 ? '30' : datum.value == 50 ? '50' : ''","title":"Loading Pressure (MPa)"}},
    "y": {"field":"y","type":"quantitative","scale":{"domain":[0,15],"nice":false,"zero":false},"axis":{"values":[0,1,2,3,4,5,6,7,8,9,10,11,12,13,14,15],"labelExpr":"datum.value % 5 == 0 ? datum.label : ''","title":null}}
   },
   "layer": [
    {"transform":[{"filter":"datum.k=='pt'"}],"mark":{"type":"circle","color":"#000","opacity":1,"size":90}},
    {"transform":[{"filter":"datum.k=='fit'"}],"mark":{"type":"line","color":"#111","strokeWidth":2.8},"encoding":{"detail":{"field":"s","type":"nominal"}}},
    {"transform":[{"filter":"datum.k=='drop'"}],"mark":{"type":"line","color":"#e3312b","strokeWidth":3.5,"strokeDash":[10,5]},"encoding":{"detail":{"field":"s","type":"nominal"}}},
    {"transform":[{"filter":"datum.k=='ev'"}],"mark":{"type":"rule","strokeWidth":2.5},"encoding":{"y2":{"field":"y2"},"color":{"field":"c","type":"nominal","scale":{"domain":["eq","fore"],"range":["#e5352d","#1a1a1a"]},"legend":null},"strokeDash":{"field":"c","type":"nominal","scale":{"domain":["eq","fore"],"range":[[3,1.5],[1,0]]},"legend":null}}},
    {"transform":[{"filter":"datum.k=='tri'"}],"mark":{"type":"point","shape":"triangle-down","filled":true,"opacity":1,"size":200},"encoding":{"color":{"field":"c","type":"nominal","scale":{"domain":["eq","fore"],"range":["#e5352d","#1a1a1a"]},"legend":null}}},
    {"transform":[{"filter":"datum.k=='lab'"}],"mark":{"type":"text","fontSize":17,"color":"#111"},"encoding":{"text":{"field":"t","type":"nominal"}}}
   ]
  },
  {"transform":[{"filter":"false"}],"mark":{"type":"point","opacity":0},"encoding":{
   "x":{"field":"x","type":"quantitative","scale":{"domain":[10,60],"nice":false,"zero":false},"axis":{"orient":"top","labels":false,"title":null,"values":[10,15,20,25,30,35,40,45,50,55,60]}},
   "y":{"field":"y","type":"quantitative","scale":{"domain":[0,15],"nice":false,"zero":false},"axis":{"orient":"right","labels":false,"title":null,"values":[0,1,2,3,4,5,6,7,8,9,10,11,12,13,14,15]}}}}
 ]
}
]
}
